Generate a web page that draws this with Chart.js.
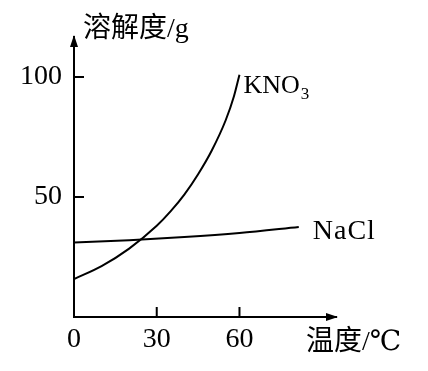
<!DOCTYPE html>
<html>
<head>
<meta charset="utf-8">
<script src="https://cdn.jsdelivr.net/npm/chart.js@4.4.1/dist/chart.umd.min.js"></script>
<style>
    html, body { margin: 0; padding: 0; background: #fff; }
    canvas { display: block; }
</style>
</head>
<body>
<canvas id="chart" width="428" height="371"></canvas>
<script>
    // solubility curves (temperature °C -> g)
    const kno3Temps = [0, 10, 20, 30, 35, 40, 45, 50, 55, 58, 60];
    const kno3Sol = [15.8, 21.2, 28.5, 38, 44, 51, 59.5, 69.5, 82, 92, 101];
    const naclTemps = [0, 20, 40, 60, 81.5];
    const naclSol = [31, 32, 33.3, 35, 37.5];

    const xTicks = [0, 30, 60];
    const yTicks = [50, 100];

    const serif = '"Liberation Serif", "DejaVu Serif", "Noto Sans CJK SC", serif';

    const toPoints = (xs, ys) => xs.map((x, i) => ({ x, y: ys[i] }));

    const axisDecor = {
        id: 'axisDecor',
        afterDraw(chart) {
            const { ctx, chartArea } = chart;
            const { left, top, bottom, right } = chartArea;
            const xs = chart.scales.x;
            const ys = chart.scales.y;

            ctx.save();
            ctx.fillStyle = '#000';
            ctx.strokeStyle = '#000';
            ctx.lineWidth = 2;

            // arrow heads
            ctx.beginPath();
            ctx.moveTo(left, top - 2);
            ctx.lineTo(left - 4, top + 10);
            ctx.lineTo(left + 4, top + 10);
            ctx.closePath();
            ctx.fill();

            ctx.beginPath();
            ctx.moveTo(right + 2, bottom);
            ctx.lineTo(right - 10, bottom - 4);
            ctx.lineTo(right - 10, bottom + 4);
            ctx.closePath();
            ctx.fill();

            // inward tick marks
            ctx.beginPath();
            xTicks.filter((v) => v > 0).forEach((v) => {
                const px = xs.getPixelForValue(v);
                ctx.moveTo(px, bottom);
                ctx.lineTo(px, bottom - 10);
            });
            yTicks.forEach((v) => {
                const py = ys.getPixelForValue(v);
                ctx.moveTo(left, py);
                ctx.lineTo(left + 10, py);
            });
            ctx.stroke();

            // axis titles
            ctx.font = `28px ${serif}`;
            ctx.textAlign = 'left';
            ctx.textBaseline = 'middle';
            ctx.fillText('溶解度/g', left + 9, top - 7);
            ctx.fillText('温度/℃', right - 30, bottom + 26);

            // curve labels
            const nx = xs.getPixelForValue(naclTemps[naclTemps.length - 1]);
            const ny = ys.getPixelForValue(naclSol[naclSol.length - 1]);
            ctx.letterSpacing = '1px';
            ctx.fillText('NaCl', nx + 14, ny + 5);
            ctx.letterSpacing = '0px';

            const kx = xs.getPixelForValue(kno3Temps[kno3Temps.length - 1]);
            const ky = ys.getPixelForValue(kno3Sol[kno3Sol.length - 1]);
            ctx.textBaseline = 'alphabetic';
            ctx.font = `26px ${serif}`;
            ctx.fillText('KNO', kx + 4, ky + 18);
            const w = ctx.measureText('KNO').width;
            ctx.font = `17px ${serif}`;
            ctx.fillText('3', kx + 5 + w, ky + 24);

            ctx.restore();
        },
    };

    const tickFont = { family: serif, size: 28 };

    new Chart(document.getElementById('chart').getContext('2d'), {
        type: 'line',
        data: {
            datasets: [
                {
                    label: 'KNO3',
                    data: toPoints(kno3Temps, kno3Sol),
                    borderColor: '#000',
                    borderWidth: 2,
                    pointRadius: 0,
                    cubicInterpolationMode: 'monotone',
                    fill: false,
                },
                {
                    label: 'NaCl',
                    data: toPoints(naclTemps, naclSol),
                    borderColor: '#000',
                    borderWidth: 2,
                    pointRadius: 0,
                    cubicInterpolationMode: 'monotone',
                    fill: false,
                },
            ],
        },
        options: {
            responsive: false,
            animation: false,
            layout: { padding: { top: 37, right: 92, left: 0, bottom: 0 } },
            plugins: { legend: { display: false }, tooltip: { enabled: false } },
            scales: {
                x: {
                    type: 'linear',
                    min: 0,
                    max: 95,
                    afterBuildTicks: (scale) => { scale.ticks = xTicks.map((value) => ({ value })); },
                    afterFit: (scale) => { scale.height = 54; },
                    grid: { display: false, drawTicks: false },
                    border: { display: true, color: '#000', width: 2 },
                    ticks: { color: '#000', font: tickFont, padding: 6, maxRotation: 0, autoSkip: false },
                },
                y: {
                    min: 0,
                    max: 116.7,
                    afterBuildTicks: (scale) => { scale.ticks = yTicks.map((value) => ({ value })); },
                    afterFit: (scale) => { scale.width = 74; },
                    grid: { display: false, drawTicks: false },
                    border: { display: true, color: '#000', width: 2 },
                    ticks: { color: '#000', font: tickFont, padding: 12, autoSkip: false },
                },
            },
        },
        plugins: [axisDecor],
    });
</script>
</body>
</html>
